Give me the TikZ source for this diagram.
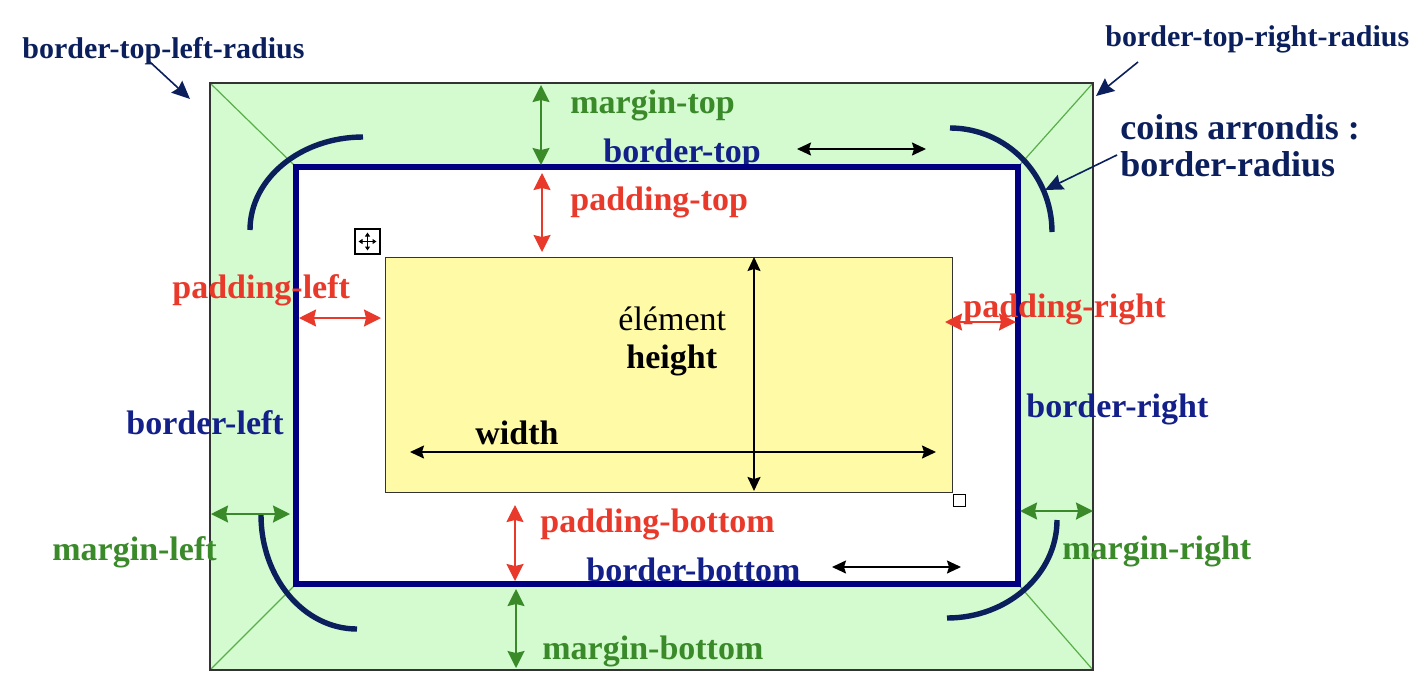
\documentclass[tikz,border=0pt]{standalone}
\usepackage{fontspec}
\setmainfont{Liberation Serif}
\usetikzlibrary{arrows.meta}
\definecolor{mgreen}{HTML}{3A8A2A}
\definecolor{lgreen}{HTML}{D4FAD0}
\definecolor{dgline}{HTML}{5AAE4A}
\definecolor{pred}{HTML}{E8392B}
\definecolor{bnavy}{HTML}{14208A}
\definecolor{rnavy}{HTML}{000080}
\definecolor{arcnavy}{HTML}{0B1F5C}
\definecolor{yel}{HTML}{FFFAA5}
\begin{document}
\begin{tikzpicture}[x=0.5pt,y=-0.5pt,
  lbl/.style={anchor=base west, inner sep=0pt, font=\bfseries\fontsize{17}{20}\selectfont},
  marginlbl/.style={lbl, text=mgreen},
  paddlbl/.style={lbl, text=pred},
  borderlbl/.style={lbl, text=bnavy},
  cornerlbl/.style={lbl, text=arcnavy, font=\bfseries\fontsize{15}{18}\selectfont},
  coinslbl/.style={lbl, text=arcnavy, font=\bfseries\fontsize{18}{21}\selectfont},
  marr/.style={mgreen, line width=1pt, {Stealth[length=8.5pt,width=8.5pt,inset=1pt]}-{Stealth[length=8.5pt,width=8.5pt,inset=1pt]}},
  parr/.style={pred, line width=1pt, {Stealth[length=8.5pt,width=8.5pt,inset=1pt]}-{Stealth[length=8.5pt,width=8.5pt,inset=1pt]}},
  karr/.style={black, line width=0.8pt, {Stealth[length=7pt,width=6.5pt,inset=1pt]}-{Stealth[length=7pt,width=6.5pt,inset=1pt]}},
  carr/.style={arcnavy, line width=0.8pt, -{Stealth[length=9pt,width=8pt,inset=1pt]}},
  radarc/.style={arcnavy, line width=2.7pt},
  diag/.style={dgline, line width=0.6pt}
]
\useasboundingbox (0,0) rectangle (1428,691);

% ---- main boxes
\coordinate (o1) at (210,83);
\coordinate (o2) at (1093,83);
\coordinate (o3) at (1093,670);
\coordinate (o4) at (210,670);
\coordinate (b1) at (296,167);
\coordinate (b2) at (1018,167);
\coordinate (b3) at (1018,584);
\coordinate (b4) at (296,584);

\fill[lgreen] (o1) rectangle (o3);
\fill[white] (b1) rectangle (b3);
\draw[diag] (o1) -- (b1);
\draw[diag] (o2) -- (b2);
\draw[diag] (o3) -- (b3);
\draw[diag] (o4) -- (b4);
\draw[black!80, line width=0.8pt] (o1) rectangle (o3);

\node[draw=black!80, line width=0.7pt, fill=yel, minimum width=283.5pt, minimum height=117.5pt, inner sep=0pt, anchor=north west] (elem) at (385,257) {};
\node[draw=black, fill=white, line width=0.6pt, minimum size=6pt, inner sep=0pt, anchor=north west] (handle) at (953,494) {};

% move icon
\node[draw=black, line width=0.6pt, fill=white, minimum size=12.5pt, inner sep=0pt] (move) at (367.5,241.5) {};
\draw[black, line width=0.6pt, {Triangle[length=2pt,width=2.5pt]}-{Triangle[length=2pt,width=2.5pt]}] ([xshift=-4.5pt]move.center) -- ([xshift=4.5pt]move.center);
\draw[black, line width=0.6pt, {Triangle[length=2pt,width=2.5pt]}-{Triangle[length=2pt,width=2.5pt]}] ([yshift=-4.5pt]move.center) -- ([yshift=4.5pt]move.center);

% ---- border-top label (under the blue line)
\node[borderlbl] (lbt) at (603,162) {border-top};

\draw[rnavy, line width=3pt] (b1) rectangle (b3);

% ---- rounded-corner arcs
\coordinate (a1) at (250,230);
\coordinate (a2) at (950,128);
\coordinate (a3) at (261,515);
\coordinate (a4) at (1057,520);
\draw[radarc] (a1) arc[start angle=180, end angle=270, x radius=113, y radius=93];
\draw[radarc] (a2) arc[start angle=270, end angle=360, x radius=102, y radius=104];
\draw[radarc] (a3) arc[start angle=180, end angle=90, x radius=96, y radius=114];
\draw[radarc] (a4) arc[start angle=0, end angle=90, x radius=110, y radius=98];

% ---- margin arrows
\coordinate (mt1) at (541,85);   \coordinate (mt2) at (541,165);
\coordinate (mb1) at (516,589);  \coordinate (mb2) at (516,668);
\coordinate (ml1) at (211,514);  \coordinate (ml2) at (290,514);
\coordinate (mr1) at (1020,511); \coordinate (mr2) at (1093,511);
\draw[marr] (mt1) -- (mt2);
\draw[marr] (mb1) -- (mb2);
\draw[marr] (ml1) -- (ml2);
\draw[marr] (mr1) -- (mr2);

% ---- padding arrows
\coordinate (pt1) at (542,173);  \coordinate (pt2) at (542,252);
\coordinate (pb1) at (515,505);  \coordinate (pb2) at (515,581);
\coordinate (pl1) at (299,318);  \coordinate (pl2) at (381,318);
\coordinate (pr1) at (945,322);  \coordinate (pr2) at (1016,322);
\draw[parr] (pt1) -- (pt2);
\draw[parr] (pb1) -- (pb2);
\draw[parr] (pl1) -- (pl2);
\draw[parr] (pr1) -- (pr2);

% ---- black arrows
\coordinate (bt1) at (797,149);  \coordinate (bt2) at (926,149);
\coordinate (bb1) at (832,567);  \coordinate (bb2) at (961,567);
\coordinate (w1) at (410,452);   \coordinate (w2) at (936,452);
\coordinate (h1) at (754,257);   \coordinate (h2) at (754,491);
\draw[karr] (bt1) -- (bt2);
\draw[karr] (bb1) -- (bb2);
\draw[karr] (w1) -- (w2);
\draw[karr] (h1) -- (h2);

% ---- corner pointers
\coordinate (ctl1) at (150,62);  \coordinate (ctl2) at (190,99);
\coordinate (ctr1) at (1138,62); \coordinate (ctr2) at (1096,96);
\coordinate (cr1) at (1117,155); \coordinate (cr2) at (1045,190);
\draw[carr] (ctl1) -- (ctl2);
\draw[carr] (ctr1) -- (ctr2);
\draw[carr] (cr1) -- (cr2);

% ---- labels
\node[cornerlbl] (ltl) at (22,58) {border-top-left-radius};
\node[cornerlbl] (ltr) at (1105,46) {border-top-right-radius};
\node[coinslbl] (lc1) at (1120,139) {coins arrondis :};
\node[coinslbl] (lc2) at (1120,176) {border-radius};

\node[marginlbl] (lmt) at (570,113) {margin-top};
\node[marginlbl] (lmb) at (542,659) {margin-bottom};
\node[marginlbl] (lml) at (52,560) {margin-left};
\node[marginlbl] (lmr) at (1062,559) {margin-right};

\node[paddlbl] (lpt) at (570,210) {padding-top};
\node[paddlbl] (lpb) at (540,532) {padding-bottom};
\node[paddlbl] (lpl) at (172,298) {padding-left};
\node[paddlbl] (lpr) at (963,317) {padding-right};

\node[borderlbl] (lbb) at (586,581) {border-bottom};
\node[borderlbl] (lbl) at (126,434) {border-left};
\node[borderlbl] (lbr) at (1026,417) {border-right};

\node[lbl, text=black] (lw) at (475,444) {width};
\node[lbl, text=black, font=\fontsize{17}{20}\selectfont] (lel) at (618,330) {élément};
\node[lbl, text=black] (lh) at (626,368) {height};
\end{tikzpicture}
\end{document}
